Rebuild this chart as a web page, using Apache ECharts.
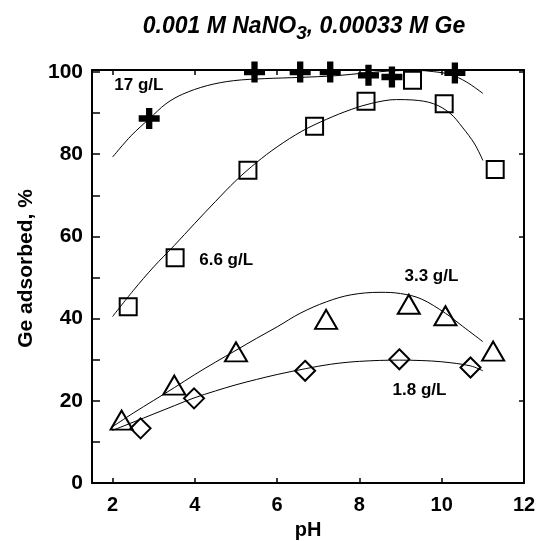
<!DOCTYPE html>
<html>
<head>
<meta charset="utf-8">
<script src="https://cdn.jsdelivr.net/npm/echarts@6/dist/echarts.min.js"></script>
<style>html,body{margin:0;padding:0;background:#fff}#c{width:538px;height:541px}</style>
</head>
<body>
<div id="c"></div>
<script>
// ---- data ----
var xTickLabels = [2, 4, 6, 8, 10, 12];
var yTickLabels = [0, 20, 40, 60, 80, 100];
var yMinorTicks = [0, 10, 20, 30, 40, 50, 60, 70, 80, 90, 100];

var pts17 = [[2.89, 88.7], [5.45, 100], [6.56, 100], [7.29, 100], [8.22, 99.2], [8.79, 98.8], [10.32, 99.8]];
var pts66 = [[2.38, 42.9], [3.52, 54.8], [5.29, 76.1], [6.91, 86.8], [8.16, 92.9], [9.29, 98.0], [10.06, 92.3], [11.3, 76.3]];
var pts33 = [[2.22, 15.3], [3.5, 23.8], [5.0, 31.9], [7.19, 39.8], [9.2, 43.5], [10.09, 40.7], [11.25, 32.1]];
var pts18 = [[2.68, 13.3], [3.98, 20.6], [6.68, 27.3], [8.97, 30.1], [10.7, 28.1]];

var curve17 = [[2.0, 79.3], [2.45, 84.5], [2.9, 88.7], [3.3, 92.3], [3.7, 94.6], [4.3, 96.7], [4.94, 97.9], [5.7, 98.4], [6.56, 98.7], [7.4, 99.1], [8.18, 99.8], [8.8, 100.3], [9.4, 100.4], [9.8, 100.1], [10.21, 99.4], [10.6, 97.6], [11.0, 94.8]];
var curve66 = [[2.0, 40.5], [2.5, 46.8], [3.0, 52.6], [3.5, 57.8], [4.0, 63.2], [4.5, 68.5], [5.0, 73.6], [5.5, 78.0], [6.0, 81.8], [6.6, 85.6], [7.2, 88.5], [7.8, 90.9], [8.3, 92.4], [8.9, 93.3], [9.3, 93.2], [9.8, 92.3], [10.2, 90.0], [10.5, 86.6], [10.8, 82.5], [11.0, 78.5]];
var curve33 = [[2.0, 13.7], [2.5, 17.0], [3.0, 20.1], [3.5, 23.2], [4.0, 26.4], [4.5, 29.4], [5.0, 32.3], [5.5, 35.2], [6.0, 38.0], [6.56, 41.3], [7.2, 44.1], [7.8, 45.8], [8.5, 46.4], [9.0, 46.1], [9.5, 44.8], [10.09, 41.3], [10.5, 38.2], [11.0, 34.4]];
var curve18 = [[2.0, 12.8], [2.5, 14.8], [3.0, 16.8], [3.5, 18.8], [3.98, 20.7], [4.5, 22.4], [5.0, 23.9], [5.5, 25.2], [6.0, 26.4], [6.68, 27.8], [7.3, 28.9], [8.0, 29.6], [8.97, 29.9], [9.5, 29.8], [10.0, 29.5], [10.7, 28.5], [11.0, 27.3]];

var seriesLabels = [
  { name: '17 g/L', value: [2.64, 96.8] },
  { name: '6.6 g/L', value: [4.76, 54.3] },
  { name: '3.3 g/L', value: [9.75, 50.3] },
  { name: '1.8 g/L', value: [9.46, 22.6] }
];

// ---- chart ----
var FONT = '"Liberation Sans", Arial, Helvetica, sans-serif';
var chart = echarts.init(document.getElementById('c'), null, { renderer: 'canvas' });

function curve(data) {
  return { type: 'line', data: data, smooth: 0.35, showSymbol: false, symbol: 'none',
    lineStyle: { color: '#000', width: 1 }, silent: true, z: 2 };
}
function marks(data, symbol, size, filled) {
  return { type: 'scatter', data: data, symbol: symbol, symbolSize: size, z: 3, silent: true,
    itemStyle: filled ? { color: '#000', borderWidth: 0, opacity: 1 } : { color: 'rgba(0,0,0,0)', borderColor: '#000', borderWidth: 2, opacity: 1 } };
}
var crossPath = 'path://M7,0H13V7H20V13H13V20H7V13H0V7H7Z';

var axisLineStyle = { show: true, onZero: false, lineStyle: { color: '#000', width: 2 } };

chart.setOption({
  animation: false,
  backgroundColor: '#fff',
  title: {
    text: '{a|0.001 M NaNO}{s|3}{a|, 0.00033 M Ge}',
    left: 299, top: 6, textAlign: 'center',
    textStyle: {
      rich: {
        a: { fontFamily: FONT, fontSize: 23, fontWeight: 'bold', fontStyle: 'italic', color: '#000' },
        s: { fontFamily: FONT, fontSize: 19, fontWeight: 'bold', fontStyle: 'italic', color: '#000', padding: [13, 0, 0, 0] }
      }
    }
  },
  grid: { left: 92, right: 14, top: 70, bottom: 58, containLabel: false, outerBoundsMode: 'none' },
  xAxis: [{
    type: 'value', min: 1.5, max: 12, position: 'bottom',
    axisLine: axisLineStyle,
    axisTick: { show: true, inside: true, length: 5, customValues: xTickLabels, lineStyle: { color: '#000', width: 1.5 } },
    axisLabel: { customValues: xTickLabels, fontFamily: FONT, fontSize: 20, fontWeight: 'bold', color: '#000', margin: 12 },
    splitLine: { show: false },
    name: 'pH', nameLocation: 'middle', nameGap: 37,
    nameTextStyle: { fontFamily: FONT, fontSize: 20, fontWeight: 'bold', color: '#000' }
  }, {
    type: 'value', min: 1.5, max: 12, position: 'top',
    axisLine: axisLineStyle,
    axisTick: { show: true, inside: true, length: 5, customValues: xTickLabels.slice(0, 5), lineStyle: { color: '#000', width: 1.5 } },
    axisLabel: { show: false }, splitLine: { show: false }
  }],
  yAxis: [{
    type: 'value', min: 0, max: 100.5, position: 'left',
    axisLine: axisLineStyle,
    axisTick: { show: true, inside: true, length: 8, customValues: yMinorTicks, lineStyle: { color: '#000', width: 1.5 } },
    axisLabel: { customValues: yTickLabels, fontFamily: FONT, fontSize: 21, fontWeight: 'bold', color: '#000', margin: 9 },
    splitLine: { show: false },
    name: 'Ge adsorbed, %', nameLocation: 'middle', nameGap: 49,
    nameTextStyle: { fontFamily: FONT, fontSize: 21, fontWeight: 'bold', color: '#000', padding: [0, 0, 0, 16] }
  }, {
    type: 'value', min: 0, max: 100.5, position: 'right',
    axisLine: axisLineStyle,
    axisTick: { show: true, inside: true, length: 5, customValues: yTickLabels.slice(1), lineStyle: { color: '#000', width: 1.5 } },
    axisLabel: { show: false }, splitLine: { show: false }
  }],
  series: [
    curve(curve17), curve(curve66), curve(curve33), curve(curve18),
    marks(pts17, crossPath, 21, true),
    marks(pts66, 'rect', 17, false),
    marks(pts33, 'triangle', [22, 19], false),
    marks(pts18, 'diamond', [20, 20], false),
    { type: 'scatter', data: seriesLabels, symbolSize: 0, z: 4, silent: true,
      itemStyle: { opacity: 1 },
      label: { show: true, position: 'inside', formatter: '{b}', fontFamily: FONT, fontSize: 17, fontWeight: 'bold', color: '#000' } }
  ]
});
</script>
</body>
</html>
